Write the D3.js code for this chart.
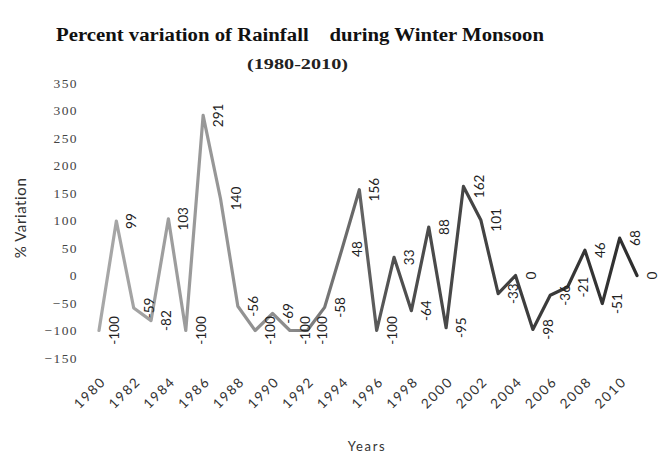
<!DOCTYPE html>
<html>
<head>
<meta charset="utf-8">
<script src="https://cdn.jsdelivr.net/npm/d3@7/dist/d3.min.js"></script>
<style>
  html, body { margin: 0; padding: 0; background: #fff; }
  svg { display: block; }
</style>
</head>
<body>
<svg id="chart" width="661" height="461"></svg>
<script>
const years = [1980,1981,1982,1983,1984,1985,1986,1987,1988,1989,1990,1991,1992,1993,1994,1995,
               1996,1997,1998,1999,2000,2001,2002,2003,2004,2005,2006,2007,2008,2009,2010,2011];
const variation = [-100,99,-59,-82,103,-100,291,140,-56,-100,-69,-100,-100,-58,48,156,
                   -100,33,-64,88,-95,162,101,-33,0,-98,-36,-21,46,-51,68,0];
const yTicks = [-150,-100,-50,0,50,100,150,200,250,300,350];
const xTickYears = [1980,1982,1984,1986,1988,1990,1992,1994,1996,1998,2000,2002,2004,2006,2008,2010];
const titleLines = ["Percent variation of Rainfall    during Winter Monsoon", "(1980-2010)"];

const svg = d3.select("#chart");
const x = d3.scaleLinear().domain([1980, 2011]).range([99, 637]);
const y = d3.scaleLinear().domain([-150, 350]).range([358, 83]);

// gradient for the scanned line (light on left, dark on right)
const defs = svg.append("defs");
const grad = defs.append("linearGradient").attr("id", "lg")
  .attr("gradientUnits", "userSpaceOnUse")
  .attr("x1", x(1980)).attr("x2", x(2011)).attr("y1", 0).attr("y2", 0);
grad.append("stop").attr("offset", "0%").attr("stop-color", "#a8a8a8");
grad.append("stop").attr("offset", "35%").attr("stop-color", "#8c8c8c");
grad.append("stop").attr("offset", "55%").attr("stop-color", "#505050");
grad.append("stop").attr("offset", "100%").attr("stop-color", "#2e2e2e");

// title
svg.append("text").attr("x", 56).attr("y", 41)
  .attr("font-family", "Liberation Serif, serif").attr("font-weight", "bold")
  .attr("font-size", 18).attr("fill", "#111").style("white-space", "pre")
  .attr("textLength", 488).attr("lengthAdjust", "spacingAndGlyphs")
  .text(titleLines[0]);
svg.append("text").attr("x", 247).attr("y", 69)
  .attr("font-family", "Liberation Serif, serif").attr("font-weight", "bold")
  .attr("font-size", 15).attr("fill", "#222")
  .attr("textLength", 101).attr("lengthAdjust", "spacingAndGlyphs")
  .text(titleLines[1]);

// y axis (no line)
const yAxis = d3.axisLeft(y).tickValues(yTicks).tickSize(0).tickPadding(0);
const gy = svg.append("g").attr("transform", "translate(78,0)").call(yAxis);
gy.select(".domain").remove();
gy.selectAll("text").attr("font-family", "Liberation Serif, serif")
  .attr("font-size", 13.5).attr("fill", "#444").attr("letter-spacing", 1.4);

// x axis (no line), rotated labels
const xAxis = d3.axisBottom(x).tickValues(xTickYears).tickFormat(d3.format("d")).tickSize(0).tickPadding(0);
const gx = svg.append("g").attr("transform", "translate(0,373)").call(xAxis);
gx.select(".domain").remove();
gx.selectAll("text")
  .attr("font-family", "Lato, sans-serif").attr("font-size", 13.5).attr("fill", "#333")
  .attr("letter-spacing", 1.8)
  .attr("text-anchor", "end").attr("dy", "0.35em")
  .attr("transform", "translate(4,6) rotate(-45)");

// axis titles
svg.append("text").attr("transform", "translate(26,218) rotate(-90)")
  .attr("text-anchor", "middle").attr("font-family", "Lato, sans-serif")
  .attr("font-size", 15).attr("letter-spacing", 0.6).attr("fill", "#333").text("% Variation");
svg.append("text").attr("x", 367).attr("y", 451).attr("text-anchor", "middle")
  .attr("font-family", "Lato, sans-serif").attr("font-size", 13).attr("fill", "#333")
  .attr("letter-spacing", 1.6).text("Years");

// line
const line = d3.line().x((d, i) => x(years[i])).y(d => y(d));
svg.append("path").datum(variation).attr("d", line)
  .attr("fill", "none").attr("stroke", "url(#lg)").attr("stroke-width", 3.2)
  .attr("stroke-linejoin", "round").attr("stroke-linecap", "round");

// data labels, rotated, to the right of each point
svg.append("g").selectAll("text").data(variation).join("text")
  .attr("transform", (d, i) => `translate(${x(years[i]) + 16},${y(d)}) rotate(-90)`)
  .attr("text-anchor", "middle").attr("dy", "0.3em")
  .attr("font-family", "Lato, sans-serif").attr("font-size", 13.5)
  .attr("fill", "#222")
  .text(d => d);
</script>
</body>
</html>
